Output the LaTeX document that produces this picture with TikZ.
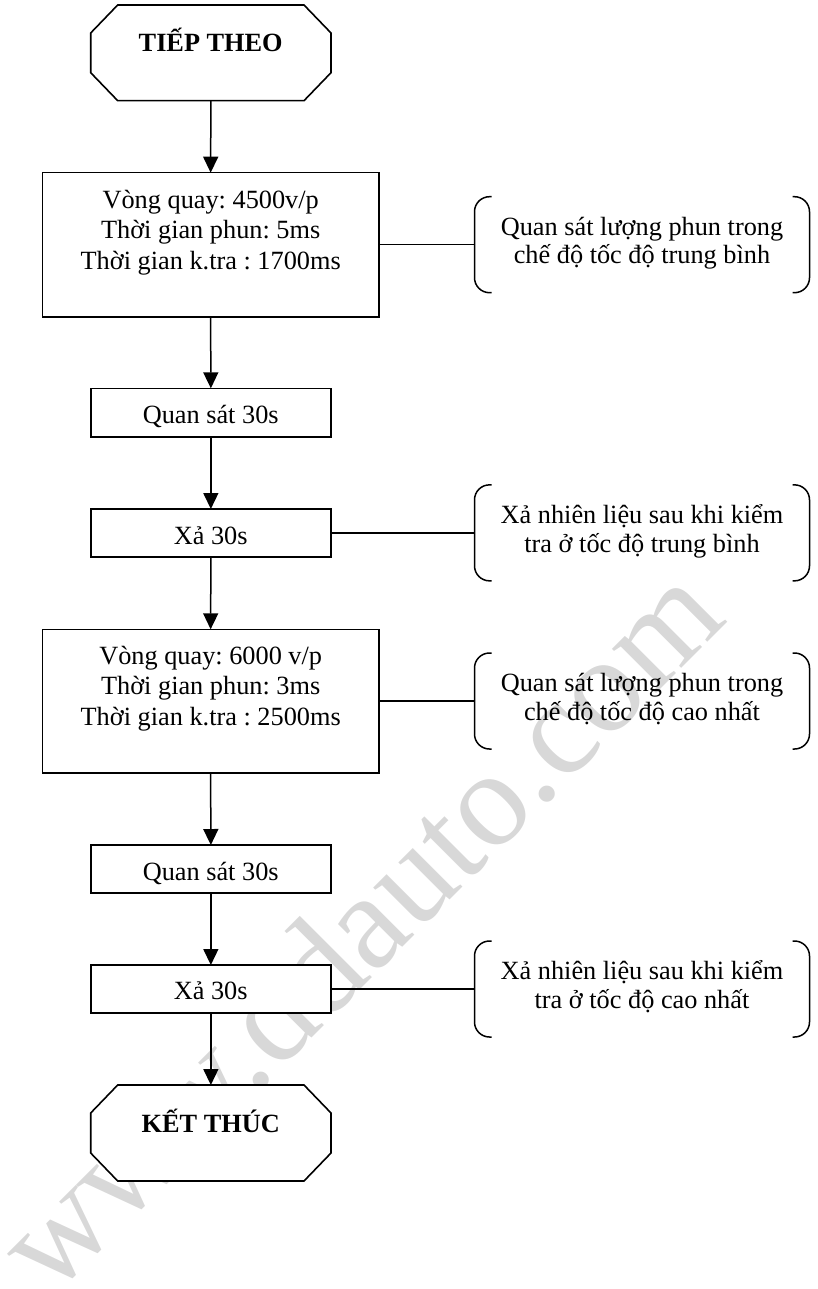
\documentclass[tikz,border=0pt]{standalone}
\usepackage{fontspec}
\setmainfont{Liberation Serif}
\usetikzlibrary{arrows.meta}
\definecolor{wmgray}{RGB}{216,216,216}
\newcommand{\tallstrut}{\vrule height 26pt depth 0pt width 0pt\relax}
\newcommand{\tightskip}{\lineskiplimit=-50pt\relax}
\frenchspacing
\begin{document}
\begin{tikzpicture}[x=1pt,y=-1pt,
  box/.style={draw, fill=white, line width=1.6pt, inner sep=0pt, outer sep=0pt, rectangle},
  frame/.style={inner sep=0pt, outer sep=0pt, rectangle},
  octo/.style={line width=1.6pt, fill=white},
  conn/.style={line width=1.5pt},
  arr/.style={line width=1.5pt, -{Triangle[length=16pt,width=15pt]}},
  one/.style={inner sep=0pt, anchor=base, font=\fontsize{26.3}{30.5}\selectfont},
  bold/.style={inner sep=0pt, anchor=base, font=\fontsize{26.3}{30.5}\selectfont\bfseries},
  txt/.style={inner sep=0pt, anchor=north, align=center, execute at begin node=\tightskip, font=\fontsize{26.3}{30.5}\selectfont},
  btxt/.style={inner sep=0pt, anchor=north, align=center, execute at begin node=\tightskip, font=\fontsize{26.3}{28.3}\selectfont},
  brk/.style={line width=1.5pt, rounded corners=15pt},
  anno/.style={inner sep=0pt, outer sep=0pt, minimum width=335pt, minimum height=96pt},
]
\useasboundingbox (0,0) rectangle (817,1289);

% watermark
\node[rotate=45, anchor=base, text=wmgray, inner sep=0pt, font=\fontsize{136}{136}\selectfont] (wm) at (390,960) {www.ddauto.com};

% start octagon
\node[frame, minimum width=240.3pt, minimum height=95.7pt] (beg) at (210.85,52.85) {};
\draw[octo] ([xshift=27pt]beg.north west) -- ([xshift=-27pt]beg.north east) -- ([yshift=-28pt]beg.north east) -- ([yshift=28pt]beg.south east) -- ([xshift=-27pt]beg.south east) -- ([xshift=27pt]beg.south west) -- ([yshift=28pt]beg.south west) -- ([yshift=-28pt]beg.north west) -- cycle;
\node[bold] (begt) at (210.7,52) {TIẾP THEO};

% boxes
\node[box, minimum width=336.7pt, minimum height=144pt] (b1) at (210.65,244.7) {};
\node[txt] (b1t) at (210.7,182) {\tallstrut Vòng quay: 4500v/p\\Thời gian phun: 5ms\\Thời gian k.tra : 1700ms};

\node[box, minimum width=240.3pt, minimum height=48.4pt] (q1) at (210.85,412.5) {};
\node[one] (q1t) at (210.7,423) {Quan sát 30s};

\node[box, minimum width=240.3pt, minimum height=47.7pt] (x1) at (210.85,532.85) {};
\node[one] (x1t) at (210.7,544.3) {Xả 30s};

\node[box, minimum width=336.7pt, minimum height=143.4pt] (b2) at (210.65,701) {};
\node[txt] (b2t) at (210.7,638) {\tallstrut Vòng quay: 6000 v/p\\Thời gian phun: 3ms\\Thời gian k.tra : 2500ms};

\node[box, minimum width=240.3pt, minimum height=47.7pt] (q2) at (210.85,868.85) {};
\node[one] (q2t) at (210.7,880) {Quan sát 30s};

\node[box, minimum width=240.3pt, minimum height=48pt] (x2) at (210.85,989) {};
\node[one] (x2t) at (210.7,999.5) {Xả 30s};

% end octagon
\node[frame, minimum width=240.3pt, minimum height=96pt] (fin) at (210.85,1133) {};
\draw[octo] ([xshift=27pt]fin.north west) -- ([xshift=-27pt]fin.north east) -- ([yshift=-28pt]fin.north east) -- ([yshift=28pt]fin.south east) -- ([xshift=-27pt]fin.south east) -- ([xshift=27pt]fin.south west) -- ([yshift=28pt]fin.south west) -- ([yshift=-28pt]fin.north west) -- cycle;
\node[bold] (fint) at (210.7,1132) {KẾT THÚC};

% arrows
\draw[arr] (beg.south) -- (b1.north);
\draw[arr] (b1.south) -- (q1.north);
\draw[arr] (q1.south) -- (x1.north);
\draw[arr] (x1.south) -- (b2.north);
\draw[arr] (b2.south) -- (q2.north);
\draw[arr] (q2.south) -- (x2.north);
\draw[arr] (x2.south) -- (fin.north);

% annotations
\node[anno] (n1) at (642,244.7) {};
\node[anno] (n2) at (642,532.85) {};
\node[anno] (n3) at (642,701) {};
\node[anno] (n4) at (642,989) {};
\foreach \n in {n1,n2,n3,n4}{
  \draw[brk] ([xshift=17pt]\n.north west) -- (\n.north west) -- (\n.south west) -- ([xshift=17pt]\n.south west);
  \draw[brk] ([xshift=-17pt]\n.north east) -- (\n.north east) -- (\n.south east) -- ([xshift=-17pt]\n.south east);
}
\draw[conn] (b1.east) -- (n1.west);
\draw[conn] (x1.east) -- (n2.west);
\draw[conn] (b2.east) -- (n3.west);
\draw[conn] (x2.east) -- (n4.west);

\node[btxt] (n1t) at (642,209.4) {\tallstrut Quan sát lượng phun trong\\chế độ tốc độ trung bình};
\node[btxt] (n2t) at (642,497.5) {\tallstrut Xả nhiên liệu sau khi kiểm\\tra ở tốc độ trung bình};
\node[btxt] (n3t) at (642,665.7) {\tallstrut Quan sát lượng phun trong\\chế độ tốc độ cao nhất};
\node[btxt] (n4t) at (642,953.7) {\tallstrut Xả nhiên liệu sau khi kiểm\\tra ở tốc độ cao nhất};
\end{tikzpicture}
\end{document}
